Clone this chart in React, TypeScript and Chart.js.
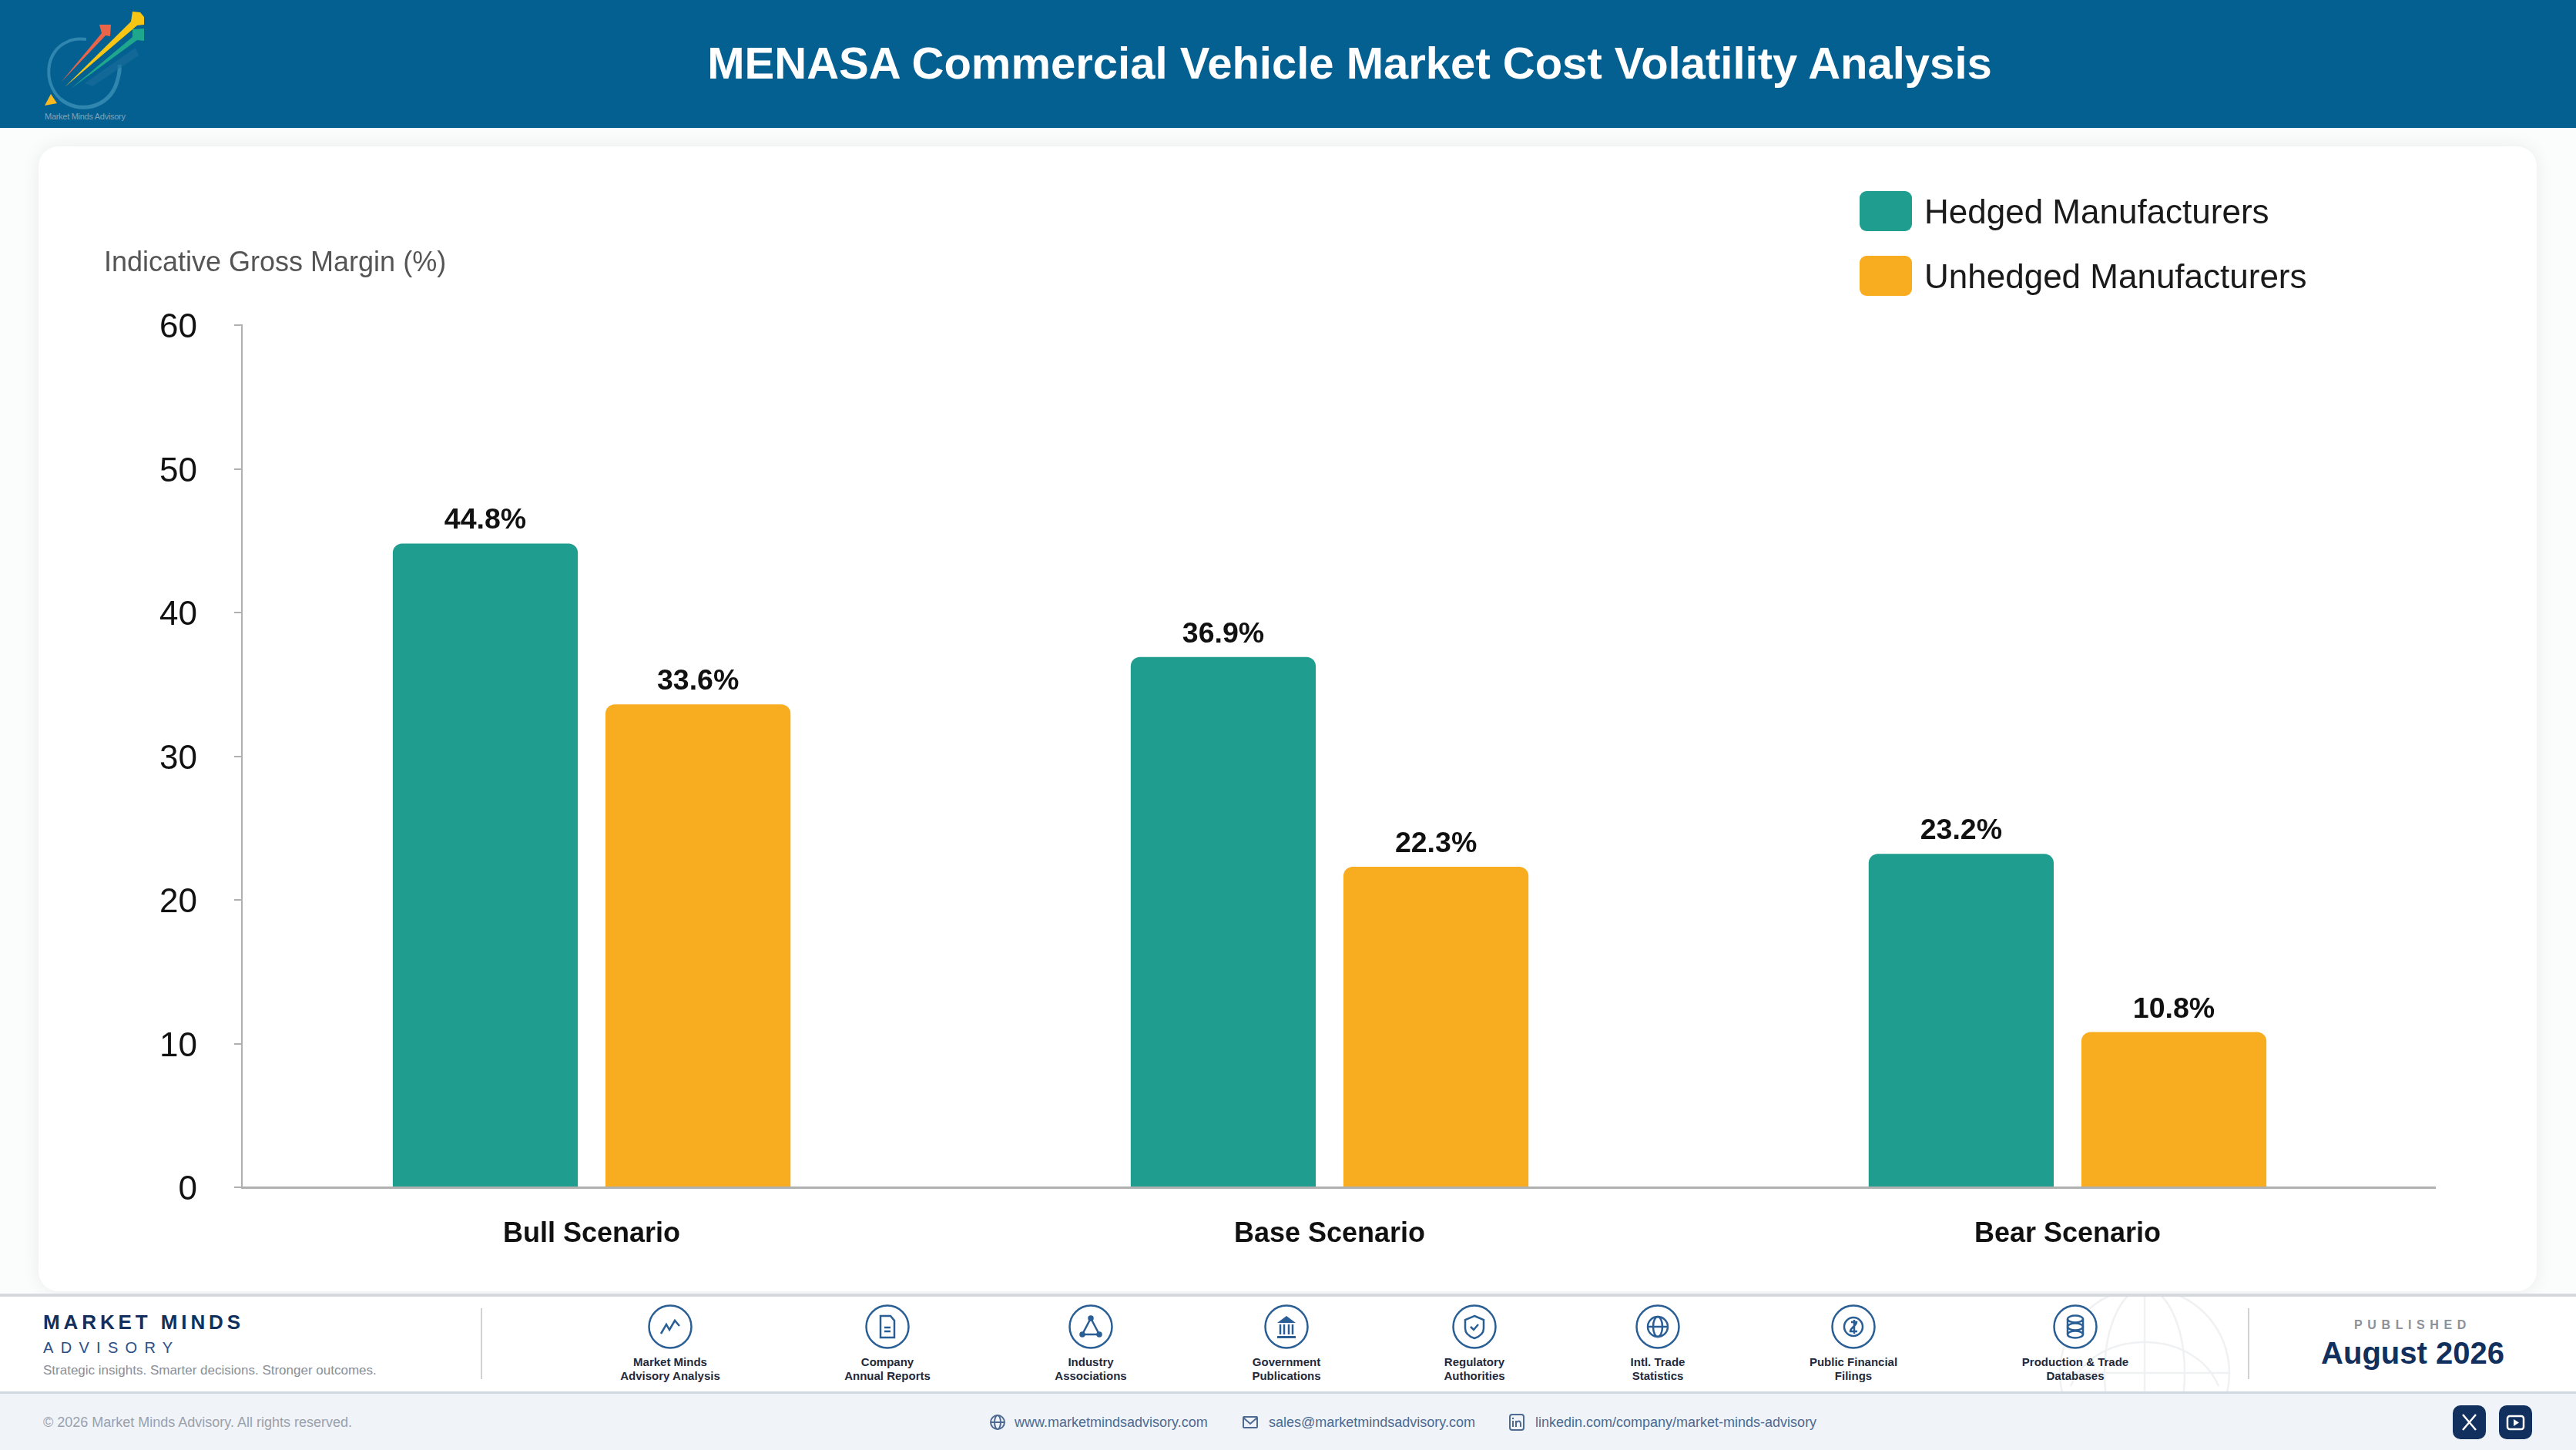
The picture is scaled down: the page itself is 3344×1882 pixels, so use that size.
import { useEffect, useRef } from 'react';
import { Chart } from 'chart.js/auto';
import type { ReactNode } from 'react';

const scenarios = ['Bull Scenario', 'Base Scenario', 'Bear Scenario'];
const hedged = [44.8, 36.9, 23.2];
const unhedged = [33.6, 22.3, 10.8];
const yTicks = [0, 10, 20, 30, 40, 50, 60];

const seriesNames = ['Hedged Manufacturers', 'Unhedged Manufacturers'];
const TEAL = '#1f9e8f';
const AMBER = '#f8ad20';
const NAVY = '#12305e';
const ICON = '#2a5f95';
const FONT = '"Liberation Sans", Arial, sans-serif';

const sources = [
    ['Market Minds', 'Advisory Analysis'],
    ['Company', 'Annual Reports'],
    ['Industry', 'Associations'],
    ['Government', 'Publications'],
    ['Regulatory', 'Authorities'],
    ['Intl. Trade', 'Statistics'],
    ['Public Financial', 'Filings'],
    ['Production & Trade', 'Databases'],
];
const sourceCentres = [870, 1152, 1416, 1670, 1914, 2152, 2406, 2694];

// value labels above each bar
const barLabels = {
    id: 'barLabels',
    afterDatasetsDraw(chart: Chart) {
        const ctx = chart.ctx;
        ctx.save();
        ctx.font = `bold 37.5px ${FONT}`;
        ctx.fillStyle = '#111111';
        ctx.textAlign = 'center';
        ctx.textBaseline = 'alphabetic';
        chart.data.datasets.forEach((ds, i) => {
            chart.getDatasetMeta(i).data.forEach((bar, j) => {
                const value = (ds.data[j] as { y: number }).y;
                ctx.fillText(value.toFixed(1) + '%', bar.x, bar.y - 19);
            });
        });
        ctx.restore();
    },
};

function BarPanel() {
    const canvasRef = useRef<HTMLCanvasElement>(null);

    useEffect(() => {
        if (!canvasRef.current) return;
        Chart.defaults.font.family = FONT;

        const chart = new Chart(canvasRef.current, {
            type: 'bar',
            data: {
                datasets: [
                    {
                        label: seriesNames[0],
                        data: hedged.map((y, x) => ({ x, y })),
                        backgroundColor: TEAL,
                        borderRadius: { topLeft: 12, topRight: 12, bottomLeft: 0, bottomRight: 0 },
                    },
                    {
                        label: seriesNames[1],
                        data: unhedged.map((y, x) => ({ x, y })),
                        backgroundColor: AMBER,
                        borderRadius: { topLeft: 12, topRight: 12, bottomLeft: 0, bottomRight: 0 },
                    },
                ],
            },
            options: {
                responsive: false,
                animation: false,
                devicePixelRatio: 1,
                categoryPercentage: 0.5765,
                barPercentage: 0.87,
                layout: { padding: { left: 0, top: 422, right: 183, bottom: 241 } },
                plugins: {
                    legend: { display: false },
                    title: { display: false },
                    tooltip: { enabled: false },
                },
                scales: {
                    x: {
                        type: 'linear',
                        offset: false,
                        min: -0.474,
                        max: 2.498,
                        afterFit: (scale) => {
                            scale.height = 100;
                        },
                        afterBuildTicks: (scale) => {
                            scale.ticks = scenarios.map((_, value) => ({ value }));
                        },
                        grid: { display: false, drawTicks: false },
                        border: { display: true, color: '#b0b0b0', width: 3 },
                        ticks: {
                            autoSkip: false,
                            maxRotation: 0,
                            padding: 39,
                            color: '#111111',
                            font: { size: 36, weight: 'bold' },
                            callback: (value) => scenarios[value as number],
                        },
                    },
                    y: {
                        min: yTicks[0],
                        max: yTicks[yTicks.length - 1],
                        afterFit: (scale) => {
                            scale.width = 314;
                        },
                        grid: {
                            drawOnChartArea: false,
                            tickLength: 10,
                            tickColor: '#b0b0b0',
                            lineWidth: 2,
                        },
                        border: { display: true, color: '#b0b0b0', width: 2 },
                        ticks: {
                            stepSize: 10,
                            padding: 48,
                            labelOffset: 4,
                            color: '#111111',
                            font: { size: 44 },
                        },
                    },
                },
            },
            plugins: [barLabels],
        });

        return () => chart.destroy();
    }, []);

    return (
        <canvas
            ref={canvasRef}
            width={3344}
            height={1882}
            style={{ position: 'absolute', left: 0, top: 0, width: 3344, height: 1882 }}
        />
    );
}

function Text(props: { x: number; y: number; size: number; color: string; bold?: boolean; spacing?: number; align?: 'left' | 'center'; children: ReactNode }) {
    const { x, y, size, color, bold, spacing, align, children } = props;
    return (
        <div
            style={{
                position: 'absolute',
                left: x,
                top: y,
                transform: align === 'center' ? 'translate(-50%, -50%)' : 'translateY(-50%)',
                fontSize: size,
                lineHeight: 1,
                color,
                fontWeight: bold ? 700 : 400,
                letterSpacing: spacing,
                whiteSpace: 'nowrap',
            }}
        >
            {children}
        </div>
    );
}

function Logo() {
    return (
        <svg width={200} height={166} style={{ position: 'absolute', left: 0, top: 0 }}>
            <path d="M78 128 C56 108 58 66 88 54 C96 50 104 50 112 51" fill="none" stroke="#2f86ae" strokeWidth={4} />
            <path d="M78 128 C100 148 142 142 152 106 C155 96 156 90 155 84" fill="none" stroke="#2f86ae" strokeWidth={5} />
            <path d="M110 108 L176 62 L180 72 L120 112 Z" fill="#1a6f9c" opacity={0.6} />
            <path d="M79 107 L132 43 L129 32 L144 32 L143 47 L137 46 Z" fill="#e8654a" />
            <path d="M92 115 L172 48 L172 38 L187 37 L187 53 L178 52 Z" fill="#1ea78c" />
            <path d="M84 113 L170 28 L172 15 L182 16 L187 22 L187 32 L178 33 Z" fill="#f7c514" />
            <path d="M66 122 L74 134 L58 137 Z" fill="#f8b820" />
            <text x={58} y={155} fontSize={11} fill="#7fa3b9" fontFamily={FONT} textLength={105}>Market Minds Advisory</text>
        </svg>
    );
}

function SourceIcon({ index }: { index: number }) {
    const common = { fill: 'none', stroke: ICON, strokeWidth: 2.5 };
    const glyphs = [
        <path {...common} d="M-12 9 L-5 -3 L-1 4 L6 -8 L12 -1" />,
        <g {...common}><path d="M-9 -14 H4 L9 -8 V14 H-9 Z" /><path d="M-4 1 H4 M-4 6 H4" /></g>,
        <g {...common}><path d="M0 -11 L11 10 H-11 Z" /><circle cx={0} cy={-11} r={2.5} fill={ICON} /><circle cx={-11} cy={10} r={2.5} fill={ICON} /><circle cx={11} cy={10} r={2.5} fill={ICON} /></g>,
        <g fill={ICON}><path d="M0 -14 L12 -5 H-12 Z" /><rect x={-12} y={12} width={24} height={3} /><path stroke={ICON} strokeWidth={2.5} d="M-8 -3 V10 M-3 -3 V10 M3 -3 V10 M8 -3 V10" /></g>,
        <g {...common}><path d="M0 -14 L12 -9 V2 C12 9 6 13 0 15 C-6 13 -12 9 -12 2 V-9 Z" /><path d="M-5 0 L-1 4 L5 -3" /></g>,
        <g {...common}><circle r={13} /><ellipse rx={6} ry={13} /><path d="M-13 0 H13" /></g>,
        <g {...common}><circle r={12} /><path d="M-3 -6 H4 C4 -1 -4 1 -4 6 H5 M1 -9 V9" /></g>,
        <g {...common}><ellipse cy={-10} rx={10} ry={4.5} /><ellipse cy={0} rx={10} ry={4.5} /><ellipse cy={10} rx={10} ry={4.5} /><path d="M-10 -10 V10 M10 -10 V10" /></g>,
    ];
    return (
        <svg width={60} height={60} viewBox="-30 -30 60 60" style={{ position: 'absolute', left: sourceCentres[index] - 30, top: 1692 }}>
            <circle r={27.5} fill="#ffffff" stroke={ICON} strokeWidth={2.5} />
            {glyphs[index]}
        </svg>
    );
}

function Footer() {
    const linkColor = '#4c6a92';
    const stroke = { fill: 'none', stroke: linkColor, strokeWidth: 2 };
    return (
        <>
            <div style={{ position: 'absolute', left: 0, top: 1679, width: 3344, height: 127, background: '#ffffff', borderTop: '4px solid #d5d8dd', boxSizing: 'border-box' }} />
            <svg width={340} height={124} viewBox="0 0 340 124" style={{ position: 'absolute', left: 2620, top: 1683 }} fill="none" stroke="#eff1f3" strokeWidth={2.5}>
                <circle cx={164} cy={99} r={110} />
                <ellipse cx={164} cy={99} rx={52} ry={110} />
                <path d="M164 0 V124 M54 99 H274" />
                <path d="M68 116 C100 40 228 40 260 116" />
            </svg>
            <div style={{ position: 'absolute', left: 0, top: 1806, width: 3344, height: 76, background: '#f0f4f8', borderTop: '3px solid #d0d8e2', boxSizing: 'border-box' }} />

            <Text x={56} y={1716} size={26} bold color={NAVY} spacing={4.9}>MARKET MINDS</Text>
            <Text x={56} y={1749} size={20} color="#2b4f86" spacing={9.3}>ADVISORY</Text>
            <Text x={56} y={1778} size={17} color="#8a8f98">Strategic insights. Smarter decisions. Stronger outcomes.</Text>
            <div style={{ position: 'absolute', left: 624, top: 1698, width: 2, height: 92, background: '#d0d2d6' }} />

            {sources.map((lines, i) => (
                <div key={lines[0]}>
                    <SourceIcon index={i} />
                    <Text x={sourceCentres[i]} y={1767} size={15} bold align="center" color="#1f2a3d">{lines[0]}</Text>
                    <Text x={sourceCentres[i]} y={1785} size={15} bold align="center" color="#1f2a3d">{lines[1]}</Text>
                </div>
            ))}

            <div style={{ position: 'absolute', left: 2918, top: 1698, width: 2, height: 92, background: '#d0d2d6' }} />
            <Text x={3132} y={1720} size={16} bold align="center" color="#8c919a" spacing={6.6}>PUBLISHED</Text>
            <Text x={3132} y={1756} size={40} bold align="center" color={NAVY}>August 2026</Text>

            <Text x={56} y={1846} size={18} color="#9aa1ad">© 2026 Market Minds Advisory. All rights reserved.</Text>

            <svg width={24} height={24} viewBox="-12 -12 24 24" style={{ position: 'absolute', left: 1283, top: 1834 }}>
                <g {...stroke}><circle r={9} /><ellipse rx={4} ry={9} /><path d="M-9 0 H9" /></g>
            </svg>
            <Text x={1317} y={1846} size={18} color={linkColor}>www.marketmindsadvisory.com</Text>
            <svg width={24} height={24} viewBox="-12 -12 24 24" style={{ position: 'absolute', left: 1611, top: 1834 }}>
                <g {...stroke}><rect x={-9} y={-7} width={18} height={14} rx={1} /><path d="M-9 -6 L0 2 L9 -6" /></g>
            </svg>
            <Text x={1647} y={1846} size={18} color={linkColor}>sales@marketmindsadvisory.com</Text>
            <svg width={24} height={24} viewBox="-12 -12 24 24" style={{ position: 'absolute', left: 1957, top: 1834 }}>
                <g {...stroke}><rect x={-9} y={-10} width={18} height={20} rx={3} /><path d="M-5 -2 V6 M-1 6 V-2 M-1 2 C-1 -2 5 -3 5 2 V6 M-5 -6 V-4" /></g>
            </svg>
            <Text x={1993} y={1846} size={18} color={linkColor}>linkedin.com/company/market-minds-advisory</Text>

            <svg width={106} height={44} style={{ position: 'absolute', left: 3184, top: 1824 }}>
                <rect width={43} height={44} rx={10} fill={NAVY} />
                <path d="M13 12 L30 32 M30 12 L13 32" stroke="#ffffff" strokeWidth={2.5} />
                <rect x={60} width={43} height={44} rx={10} fill={NAVY} />
                <rect x={71} y={14} width={21} height={17} rx={3} fill="none" stroke="#ffffff" strokeWidth={2.5} />
                <path d="M79 18 L86 22.5 L79 27 Z" fill="#ffffff" />
            </svg>
        </>
    );
}

export default function App() {
    return (
        <div style={{ position: 'absolute', left: 0, top: 0, width: 3344, height: 1882, overflow: 'hidden', background: '#fbfcfc', fontFamily: FONT }}>
            <div style={{ position: 'absolute', left: 0, top: 0, width: 3344, height: 166, background: '#056092' }} />
            <Logo />
            <Text x={1752} y={82} size={58} bold align="center" color="#ffffff">
                MENASA Commercial Vehicle Market Cost Volatility Analysis
            </Text>

            <div style={{ position: 'absolute', left: 50, top: 190, width: 3243, height: 1486, background: '#ffffff', borderRadius: 26, boxShadow: '0 0 24px rgba(0,0,0,0.07)' }} />
            <BarPanel />

            <Text x={135} y={340} size={36} color="#555555">Indicative Gross Margin (%)</Text>
            {seriesNames.map((name, i) => (
                <div key={name}>
                    <div style={{ position: 'absolute', left: 2414, top: 248 + i * 84, width: 68, height: 52, borderRadius: 9, background: i === 0 ? TEAL : AMBER }} />
                    <Text x={2498} y={275 + i * 84} size={44} color="#1a1a1a">{name}</Text>
                </div>
            ))}

            <Footer />
        </div>
    );
}
